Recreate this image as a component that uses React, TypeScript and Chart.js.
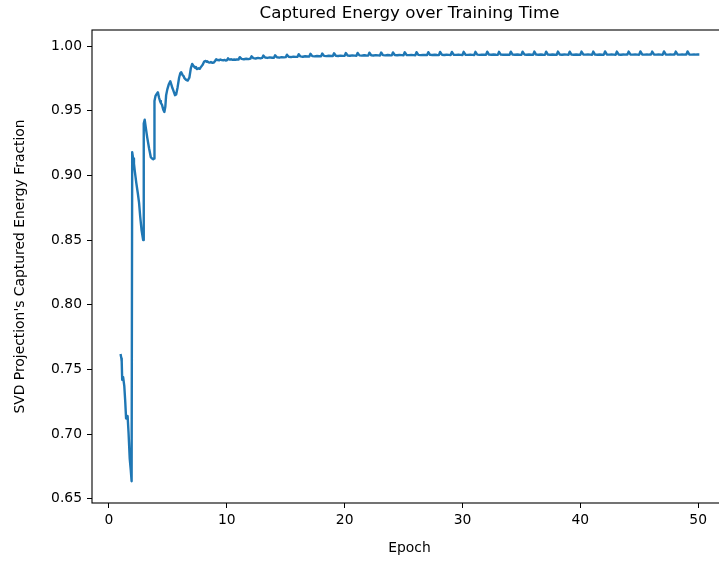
import React, { useEffect, useRef } from "react";
import { Chart, registerables } from "chart.js";

Chart.register(...registerables);

const TITLE = "Captured Energy over Training Time";
const X_LABEL = "Epoch";
const Y_LABEL = "SVD Projection's Captured Energy Fraction";
const X_TICKS = [0, 10, 20, 30, 40, 50];
const Y_TICKS = [0.65, 0.7, 0.75, 0.8, 0.85, 0.9, 0.95, 1.0];

// Early training (epochs 1-10): epoch position and captured energy fraction
const warmupEpochs = [
  1.0, 1.05, 1.08, 1.12, 1.2, 1.3, 1.38, 1.45, 1.52, 1.58, 1.66, 1.76, 1.85, 1.92,
  1.97, 2.05, 2.12, 2.18, 2.25, 2.32, 2.45, 2.55, 2.65, 2.76, 2.9,
  2.95, 3.03, 3.12, 3.25, 3.4, 3.55, 3.66, 3.75, 3.82,
  3.86, 3.95, 4.05, 4.15, 4.25, 4.33, 4.4, 4.5, 4.6, 4.7, 4.78,
  4.85, 4.95, 5.08, 5.2, 5.3, 5.38, 5.45, 5.6, 5.7, 5.82,
  5.95, 6.05, 6.12, 6.25, 6.33, 6.4, 6.55, 6.68, 6.82,
  6.95, 7.06, 7.15, 7.3, 7.38, 7.45, 7.6, 7.7, 7.78,
  7.95, 8.08, 8.2, 8.3, 8.35, 8.45, 8.55, 8.65, 8.75, 8.9,
  9.0, 9.1, 9.18, 9.25, 9.35, 9.45, 9.58, 9.7, 9.8, 9.9,
  10.0, 10.1, 10.18, 10.25, 10.38, 10.5, 10.62, 10.75, 10.85, 10.95,
];
const warmupEnergy = [
  0.761, 0.7585, 0.756, 0.742, 0.744, 0.737, 0.725, 0.712, 0.713, 0.714, 0.701, 0.681, 0.672, 0.6635,
  0.918, 0.913, 0.909, 0.904, 0.899, 0.894, 0.886, 0.879, 0.868, 0.858, 0.85,
  0.94, 0.943, 0.937, 0.929, 0.921, 0.914, 0.913, 0.9125, 0.913,
  0.9575, 0.9615, 0.963, 0.9642, 0.96, 0.9575, 0.956, 0.9545, 0.951, 0.949, 0.953,
  0.962, 0.9665, 0.9705, 0.9728, 0.97, 0.9675, 0.966, 0.962, 0.9625, 0.968,
  0.9755, 0.979, 0.9798, 0.9775, 0.9768, 0.9752, 0.9738, 0.9733, 0.9755,
  0.983, 0.9862, 0.985, 0.9832, 0.9838, 0.9822, 0.9828, 0.9824, 0.9835,
  0.9855, 0.988, 0.9885, 0.9878, 0.9882, 0.9874, 0.9872, 0.9876, 0.987, 0.9873,
  0.9885, 0.9898, 0.9892, 0.9893, 0.9889, 0.9896, 0.9891, 0.989, 0.9893, 0.9888,
  0.989, 0.9905, 0.9897, 0.9895, 0.9898, 0.9893, 0.9896, 0.9894, 0.9897, 0.9895,
];

// Epochs 11-49: one row per epoch, sampled at these fractions of the epoch
const plateauFirstEpoch = 11;
const plateauFractions = [0, 0.1, 0.25, 0.45, 0.65, 0.85];
const plateauEnergy = [
  [0.9897, 0.9914, 0.9901, 0.9898, 0.9902, 0.9899],
  [0.9903, 0.9921, 0.9907, 0.9904, 0.9908, 0.9905],
  [0.9908, 0.9926, 0.9911, 0.9908, 0.9912, 0.9909],
  [0.9909, 0.9929, 0.9913, 0.991, 0.9914, 0.9912],
  [0.9914, 0.9933, 0.9917, 0.9914, 0.9918, 0.9916],
  [0.9917, 0.9937, 0.992, 0.9917, 0.9921, 0.9919],
  [0.9919, 0.994, 0.9922, 0.992, 0.9923, 0.9921],
  [0.9921, 0.9942, 0.9924, 0.9922, 0.9925, 0.9923],
  [0.9923, 0.9944, 0.9925, 0.9923, 0.9926, 0.9924],
  [0.9924, 0.9946, 0.9927, 0.9925, 0.9928, 0.9926],
  [0.9925, 0.9947, 0.9928, 0.9926, 0.9929, 0.9927],
  [0.9926, 0.9949, 0.9929, 0.9927, 0.993, 0.9928],
  [0.9927, 0.995, 0.993, 0.9928, 0.9931, 0.9929],
  [0.9928, 0.9951, 0.9931, 0.9929, 0.9931, 0.993],
  [0.9929, 0.9952, 0.9931, 0.993, 0.9932, 0.993],
  [0.9929, 0.9953, 0.9932, 0.993, 0.9932, 0.9931],
  [0.993, 0.9953, 0.9932, 0.9931, 0.9933, 0.9931],
  [0.993, 0.9954, 0.9933, 0.9931, 0.9933, 0.9932],
  [0.9931, 0.9954, 0.9933, 0.9932, 0.9934, 0.9932],
  [0.9931, 0.9955, 0.9933, 0.9932, 0.9934, 0.9932],
  [0.9931, 0.9955, 0.9934, 0.9932, 0.9934, 0.9933],
  [0.9932, 0.9956, 0.9934, 0.9933, 0.9935, 0.9933],
  [0.9932, 0.9955, 0.9934, 0.9933, 0.9934, 0.9933],
  [0.9932, 0.9956, 0.9934, 0.9933, 0.9935, 0.9933],
  [0.9932, 0.9956, 0.9935, 0.9933, 0.9935, 0.9933],
  [0.9933, 0.9957, 0.9934, 0.9933, 0.9935, 0.9933],
  [0.9932, 0.9956, 0.9934, 0.9933, 0.9935, 0.9933],
  [0.9933, 0.9957, 0.9935, 0.9933, 0.9935, 0.9934],
  [0.9933, 0.9956, 0.9934, 0.9933, 0.9935, 0.9933],
  [0.9933, 0.9957, 0.9935, 0.9934, 0.9935, 0.9934],
  [0.9933, 0.9957, 0.9934, 0.9933, 0.9935, 0.9933],
  [0.9933, 0.9958, 0.9935, 0.9934, 0.9935, 0.9934],
  [0.9933, 0.9957, 0.9935, 0.9933, 0.9935, 0.9934],
  [0.9934, 0.9957, 0.9935, 0.9934, 0.9935, 0.9934],
  [0.9933, 0.9958, 0.9935, 0.9934, 0.9935, 0.9934],
  [0.9934, 0.9957, 0.9935, 0.9934, 0.9935, 0.9934],
  [0.9933, 0.9958, 0.9935, 0.9934, 0.9935, 0.9934],
  [0.9934, 0.9957, 0.9935, 0.9934, 0.9935, 0.9934],
  [0.9934, 0.9958, 0.9935, 0.9934, 0.9935, 0.9934],
];
const lastEpoch = 50.0;
const lastEnergy = 0.9934;

const FONT = "DejaVu Sans";
const LINE_COLOR = "#1f77b4";

function buildPoints() {
  const pts: { x: number; y: number }[] = warmupEpochs.map((e, i) => ({
    x: e,
    y: warmupEnergy[i],
  }));
  plateauEnergy.forEach((row, r) => {
    row.forEach((v, k) => {
      pts.push({ x: plateauFirstEpoch + r + plateauFractions[k], y: v });
    });
  });
  pts.push({ x: lastEpoch, y: lastEnergy });
  return pts;
}

// Draws the axes frame (all four spines) and the title centred over the plot area
const framePlugin = {
  id: "axesFrame",
  afterDatasetsDraw(chart: any) {
    const { ctx, chartArea } = chart;
    const { left, right, top, bottom } = chartArea;
    ctx.save();
    ctx.strokeStyle = "#000";
    ctx.lineWidth = 1.1;
    ctx.strokeRect(left, top, right - left, bottom - top);
    ctx.restore();
  },
  afterDraw(chart: any) {
    const { ctx, chartArea } = chart;
    ctx.save();
    ctx.font = `16.67px "${FONT}"`;
    ctx.fillStyle = "#000";
    ctx.textAlign = "center";
    ctx.textBaseline = "alphabetic";
    ctx.fillText(TITLE, (chartArea.left + chartArea.right) / 2, 18);
    ctx.restore();
  },
};

export default function App() {
  const canvasRef = useRef<HTMLCanvasElement | null>(null);

  useEffect(() => {
    const canvas = canvasRef.current;
    if (!canvas) return;
    const tickFont = { family: FONT, size: 13.89 };
    const chart = new Chart(canvas, {
      type: "line",
      data: {
        datasets: [
          {
            data: buildPoints(),
            borderColor: LINE_COLOR,
            borderWidth: 2.4,
            pointRadius: 0,
            tension: 0,
            fill: false,
            borderCapStyle: "square",
            borderJoinStyle: "round",
          },
        ],
      },
      options: {
        animation: false,
        responsive: false,
        devicePixelRatio: 1,
        layout: { padding: { top: 30, right: 8, left: 0, bottom: 0 } },
        plugins: {
          legend: { display: false },
          tooltip: { enabled: false },
          title: { display: false },
        },
        scales: {
          x: {
            type: "linear",
            min: -1.442,
            max: 52.45,
            afterBuildTicks: (s: any) => {
              s.ticks = X_TICKS.map((v) => ({ value: v }));
            },
            afterFit: (s: any) => {
              s.height = 60;
            },
            ticks: {
              autoSkip: false,
              maxRotation: 0,
              font: tickFont,
              color: "#000",
              padding: 4,
              callback: (v: any) => String(v),
            },
            grid: {
              drawOnChartArea: false,
              drawTicks: true,
              tickLength: 5,
              tickColor: "#000",
              tickWidth: 1,
            },
            border: { display: false },
            title: {
              display: true,
              text: X_LABEL,
              font: tickFont,
              color: "#000",
              padding: { top: 0, bottom: 6.7 },
            },
          },
          y: {
            type: "linear",
            min: 0.6467,
            max: 1.0124,
            afterBuildTicks: (s: any) => {
              s.ticks = Y_TICKS.map((v) => ({ value: v }));
            },
            afterFit: (s: any) => {
              s.width = 92;
            },
            ticks: {
              autoSkip: false,
              font: tickFont,
              color: "#000",
              padding: 5,
              callback: (v: any) => Number(v).toFixed(2),
            },
            grid: {
              drawOnChartArea: false,
              drawTicks: true,
              tickLength: 5,
              tickColor: "#000",
              tickWidth: 1,
            },
            border: { display: false },
            title: {
              display: true,
              text: Y_LABEL,
              font: tickFont,
              color: "#000",
              padding: { top: 12, bottom: 0 },
            },
          },
        },
      } as any,
      plugins: [framePlugin],
    });
    return () => chart.destroy();
  }, []);

  return (
    <div
      style={{
        position: "absolute",
        left: 0,
        top: 0,
        width: 735,
        height: 563,
        background: "#fff",
      }}
    >
      <canvas ref={canvasRef} width={735} height={563} />
    </div>
  );
}
